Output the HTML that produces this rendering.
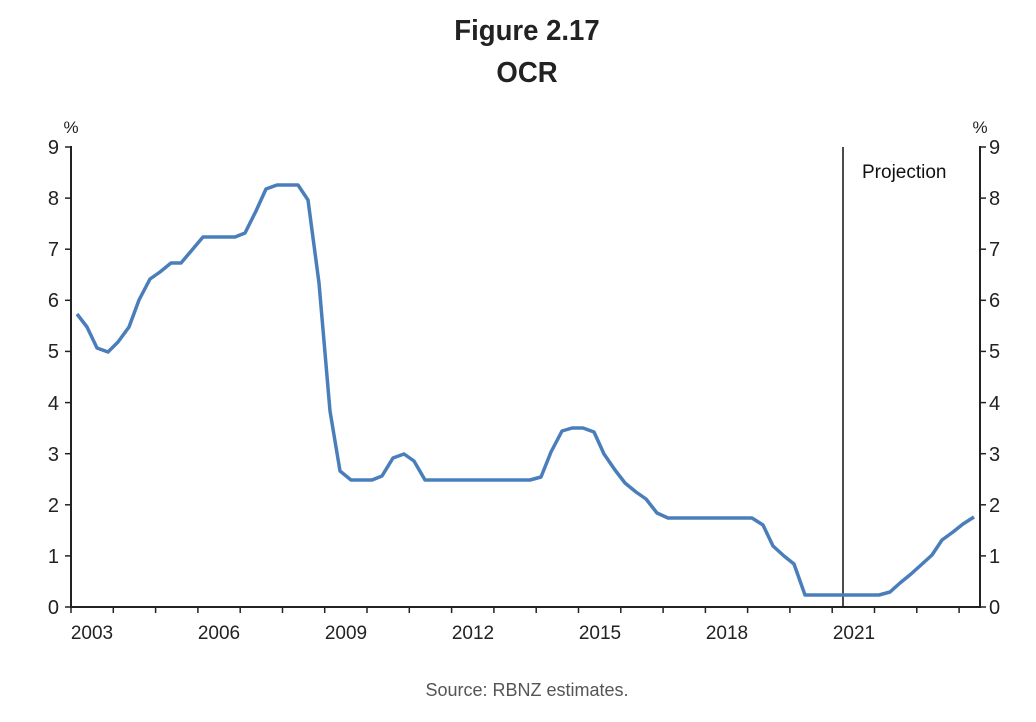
<!DOCTYPE html>
<html><head><meta charset="utf-8"><style>
body{margin:0;background:#fff;}
svg text{font-family:"Liberation Sans",Arial,sans-serif;}
</style></head><body>
<svg width="1036" height="717" viewBox="0 0 1036 717">
<text x="527" y="40" text-anchor="middle" font-size="29" font-weight="bold" fill="#222" transform="translate(527 0) scale(0.95 1) translate(-527 0)">Figure 2.17</text>
<text x="527" y="82" text-anchor="middle" font-size="29" font-weight="bold" fill="#222" transform="translate(527 0) scale(0.95 1) translate(-527 0)">OCR</text>
<g stroke="#222" stroke-width="2" fill="none">
<line x1="71" y1="146" x2="71" y2="608"/>
<line x1="980" y1="146" x2="980" y2="608"/>
<line x1="70" y1="607" x2="981" y2="607"/>
</g>
<g stroke="#222" stroke-width="1.5">
<line x1="65" y1="607" x2="71" y2="607"/><line x1="65" y1="555.9" x2="71" y2="555.9"/><line x1="65" y1="504.8" x2="71" y2="504.8"/><line x1="65" y1="453.7" x2="71" y2="453.7"/><line x1="65" y1="402.6" x2="71" y2="402.6"/><line x1="65" y1="351.4" x2="71" y2="351.4"/><line x1="65" y1="300.3" x2="71" y2="300.3"/><line x1="65" y1="249.2" x2="71" y2="249.2"/><line x1="65" y1="198.1" x2="71" y2="198.1"/><line x1="65" y1="147" x2="71" y2="147"/>
<line x1="980" y1="607" x2="986" y2="607"/><line x1="980" y1="555.9" x2="986" y2="555.9"/><line x1="980" y1="504.8" x2="986" y2="504.8"/><line x1="980" y1="453.7" x2="986" y2="453.7"/><line x1="980" y1="402.6" x2="986" y2="402.6"/><line x1="980" y1="351.4" x2="986" y2="351.4"/><line x1="980" y1="300.3" x2="986" y2="300.3"/><line x1="980" y1="249.2" x2="986" y2="249.2"/><line x1="980" y1="198.1" x2="986" y2="198.1"/><line x1="980" y1="147" x2="986" y2="147"/>
<line x1="71" y1="607" x2="71" y2="613"/><line x1="113.3" y1="607" x2="113.3" y2="613"/><line x1="155.6" y1="607" x2="155.6" y2="613"/><line x1="197.9" y1="607" x2="197.9" y2="613"/><line x1="240.2" y1="607" x2="240.2" y2="613"/><line x1="282.5" y1="607" x2="282.5" y2="613"/><line x1="324.7" y1="607" x2="324.7" y2="613"/><line x1="367" y1="607" x2="367" y2="613"/><line x1="409.3" y1="607" x2="409.3" y2="613"/><line x1="451.6" y1="607" x2="451.6" y2="613"/><line x1="493.9" y1="607" x2="493.9" y2="613"/><line x1="536.2" y1="607" x2="536.2" y2="613"/><line x1="578.5" y1="607" x2="578.5" y2="613"/><line x1="620.8" y1="607" x2="620.8" y2="613"/><line x1="663.1" y1="607" x2="663.1" y2="613"/><line x1="705.4" y1="607" x2="705.4" y2="613"/><line x1="747.6" y1="607" x2="747.6" y2="613"/><line x1="789.9" y1="607" x2="789.9" y2="613"/><line x1="832.2" y1="607" x2="832.2" y2="613"/><line x1="874.5" y1="607" x2="874.5" y2="613"/><line x1="916.8" y1="607" x2="916.8" y2="613"/><line x1="959.1" y1="607" x2="959.1" y2="613"/>
</g>
<g font-size="20" fill="#222" text-anchor="end">
<text x="59" y="614">0</text><text x="59" y="563">1</text><text x="59" y="512">2</text><text x="59" y="461">3</text><text x="59" y="410">4</text><text x="59" y="358">5</text><text x="59" y="307">6</text><text x="59" y="256">7</text><text x="59" y="205">8</text><text x="59" y="154">9</text>
</g>
<g font-size="20" fill="#222">
<text x="989" y="614">0</text><text x="989" y="563">1</text><text x="989" y="512">2</text><text x="989" y="461">3</text><text x="989" y="410">4</text><text x="989" y="358">5</text><text x="989" y="307">6</text><text x="989" y="256">7</text><text x="989" y="205">8</text><text x="989" y="154">9</text>
</g>
<g font-size="19" fill="#222" text-anchor="middle">
<text x="92" y="639">2003</text><text x="219" y="639">2006</text><text x="346" y="639">2009</text><text x="473" y="639">2012</text><text x="600" y="639">2015</text><text x="727" y="639">2018</text><text x="854" y="639">2021</text>
</g>
<text x="71" y="133" text-anchor="middle" font-size="17" fill="#222">%</text>
<text x="980" y="133" text-anchor="middle" font-size="17" fill="#222">%</text>
<line x1="843" y1="147" x2="843" y2="607" stroke="#111" stroke-width="1.5"/>
<text x="862" y="178" font-size="19" fill="#111">Projection</text>
<polyline fill="none" stroke="#4a7ebb" stroke-width="3.5" stroke-linejoin="round" points="77,314 87,327 97,348 108,352 118,342 129,327 139,300 150,279 160,272 171,263 181,263 192,250 203,237 213,237 224,237 235,237 245,233 256,211 266,189 277,185 287,185 298,185 308,200 319,283 330,411 340,471 351,480 361,480 372,480 382,476 393,458 404,454 414,461 425,480 530,480 541,477 551,452 562,431 572,428 583,428 594,432 604,454 615,470 625,483 636,492 646,499 657,513 668,518 752,518 763,525 773,546 784,556 794,564 805,595 879,595 890,592 900,583 911,574 921,565 932,555 942,540 953,532 963,524 974,517"/>
<text x="527" y="696" text-anchor="middle" font-size="18" fill="#555">Source: RBNZ estimates.</text>
</svg>
</body></html>
